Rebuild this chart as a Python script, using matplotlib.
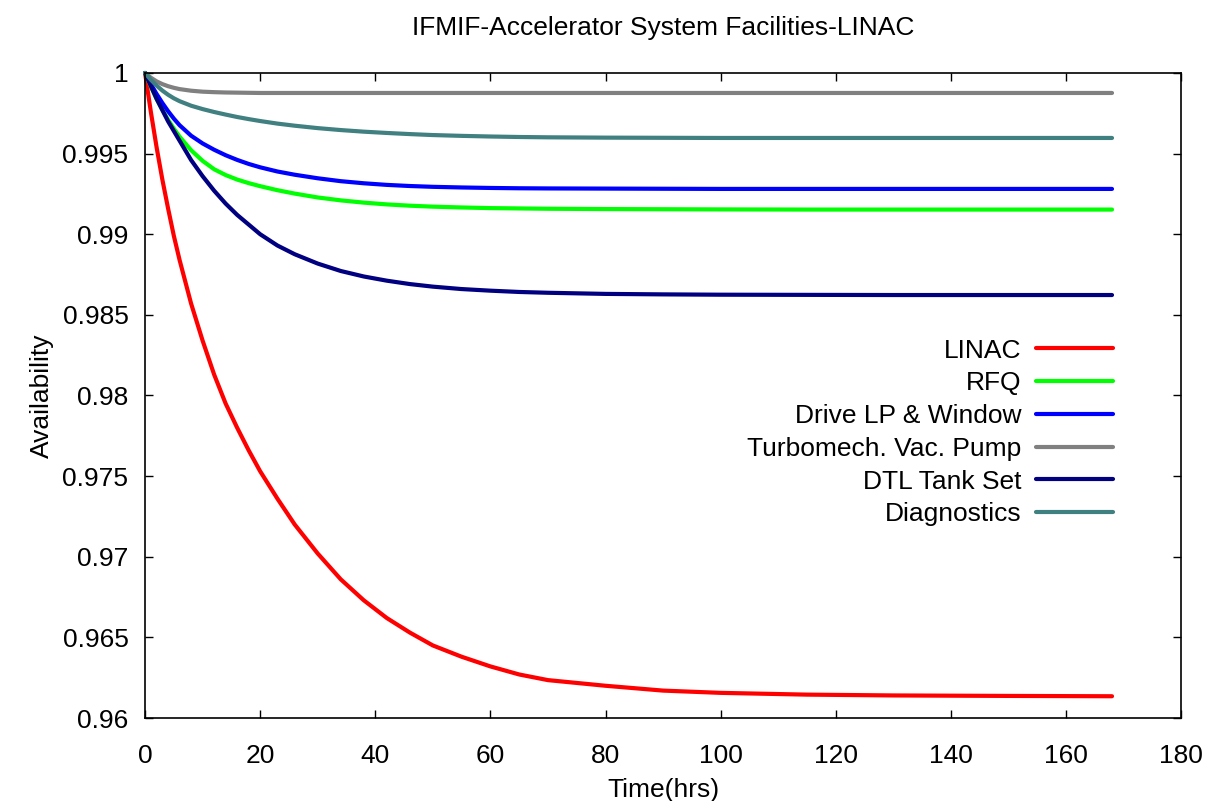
import matplotlib.pyplot as plt

plt.rcParams['font.family'] = ['Liberation Sans', 'DejaVu Sans']

# time points (hrs)
t = [0, 1, 2, 3, 4, 5, 6, 8, 10, 12, 14, 16, 18,
     20, 23, 26, 30, 34, 38, 42, 46, 50, 55, 60, 65, 70, 80, 90, 100, 115,
     130, 150, 168]

linac = [1.0, 0.9976, 0.9954, 0.9934, 0.9916, 0.9899, 0.9884, 0.9857, 0.9834,
         0.9813, 0.9795, 0.9780, 0.9766,
         0.9753, 0.9736, 0.9720, 0.9702, 0.9686, 0.9673, 0.9662, 0.9653,
         0.9645, 0.9638, 0.9632, 0.9627, 0.96235, 0.9620, 0.9617, 0.96156,
         0.96145, 0.96140, 0.96137, 0.96135]
rfq = [1.0, 0.99916, 0.9984, 0.99772, 0.9971, 0.99655, 0.99605, 0.99521,
       0.99455, 0.99403, 0.99367, 0.99339, 0.99317,
       0.99298, 0.99273, 0.99252, 0.99228, 0.9921, 0.99196, 0.99185, 0.99177,
       0.99171, 0.99166, 0.99162, 0.9916, 0.99158, 0.99156, 0.99155, 0.99154,
       0.99153, 0.99153, 0.99153, 0.99153]
drive = [1.0, 0.99931, 0.9987, 0.99814, 0.99763, 0.99717, 0.99676, 0.99611,
         0.99563, 0.99524, 0.9949, 0.99461, 0.99436,
         0.99415, 0.99389, 0.99369, 0.99347, 0.99329, 0.99316, 0.99306,
         0.99299, 0.99294, 0.9929, 0.99287, 0.99285, 0.99284, 0.99283,
         0.99282, 0.99281, 0.99281, 0.99281, 0.99281, 0.99281]
turbo = [1.0, 0.99971, 0.99948, 0.99931, 0.99918, 0.99908, 0.999, 0.9989,
         0.99884, 0.99881, 0.99879, 0.99878, 0.99877,
         0.99876, 0.99876, 0.99876, 0.99876, 0.99876, 0.99876, 0.99876,
         0.99876, 0.99876, 0.99876, 0.99876, 0.99876, 0.99876, 0.99876,
         0.99876, 0.99876, 0.99876, 0.99876, 0.99876, 0.99876]
dtl = [1.0, 0.9992, 0.9984, 0.9977, 0.9970, 0.9964, 0.9958, 0.9946, 0.9936,
       0.9927, 0.9919, 0.9912, 0.9906,
       0.9900, 0.9893, 0.98876, 0.98818, 0.98772, 0.98738, 0.98712, 0.98691,
       0.98675, 0.9866, 0.9865, 0.98642, 0.98637, 0.9863, 0.98627, 0.98625,
       0.98624, 0.98623, 0.98623, 0.98623]
diag = [1.0, 0.99958, 0.99922, 0.99891, 0.99865, 0.99843, 0.99825, 0.99797,
        0.99776, 0.99758, 0.99742, 0.99727, 0.99714,
        0.99702, 0.99686, 0.99673, 0.99658, 0.99646, 0.99636, 0.99628,
        0.99621, 0.99615, 0.9961, 0.99606, 0.99603, 0.99601, 0.99599,
        0.99598, 0.99597, 0.99597, 0.99597, 0.99597, 0.99597]

labels = ['LINAC', 'RFQ', 'Drive LP & Window', 'Turbomech. Vac. Pump',
          'DTL Tank Set', 'Diagnostics']
colors = ['#ff0000', '#00ff00', '#0000ff', '#808080', '#000080', '#408080']

yticks = [0.96, 0.965, 0.97, 0.975, 0.98, 0.985, 0.99, 0.995, 1.0]
ytick_labels = ['0.96', '0.965', '0.97', '0.975', '0.98', '0.985', '0.99',
                '0.995', '1']
xticks = [0, 20, 40, 60, 80, 100, 120, 140, 160, 180]

fs = 19

fig = plt.figure(figsize=(12.2, 8.01), dpi=100)
ax = fig.add_axes([0.1189, 0.1036, 0.8492, 0.8053])

for ys, lab, col in zip([linac, rfq, drive, turbo, dtl, diag], labels, colors):
    ax.plot(t, ys, color=col, lw=3.0, label=lab, solid_capstyle='round',
            solid_joinstyle='round', clip_on=False)

ax.set_xlim(0, 180)
ax.set_ylim(0.96, 1.0)
ax.set_xticks(xticks)
ax.set_xticklabels([str(x) for x in xticks])
ax.set_yticks(yticks)
ax.set_yticklabels(ytick_labels)
ax.tick_params(axis='both', direction='in', length=6, width=1,
               top=True, right=True, labelsize=fs)
ax.tick_params(axis='x', pad=19)
ax.tick_params(axis='y', pad=12)
for s in ax.spines.values():
    s.set_linewidth(1.2)

ax.set_xlabel('Time(hrs)', fontsize=fs, labelpad=7)
ax.set_ylabel('Availability', fontsize=fs, labelpad=6)
ax.set_title('IFMIF-Accelerator System Facilities-LINAC', fontsize=fs, pad=27)

ax.legend(loc='upper right', bbox_to_anchor=(0.934, 0.588), frameon=False,
          markerfirst=False, fontsize=fs, handlelength=2.9, handletextpad=0.55,
          labelspacing=0.33, borderpad=0, borderaxespad=0)

plt.savefig('out.png', dpi=100)
